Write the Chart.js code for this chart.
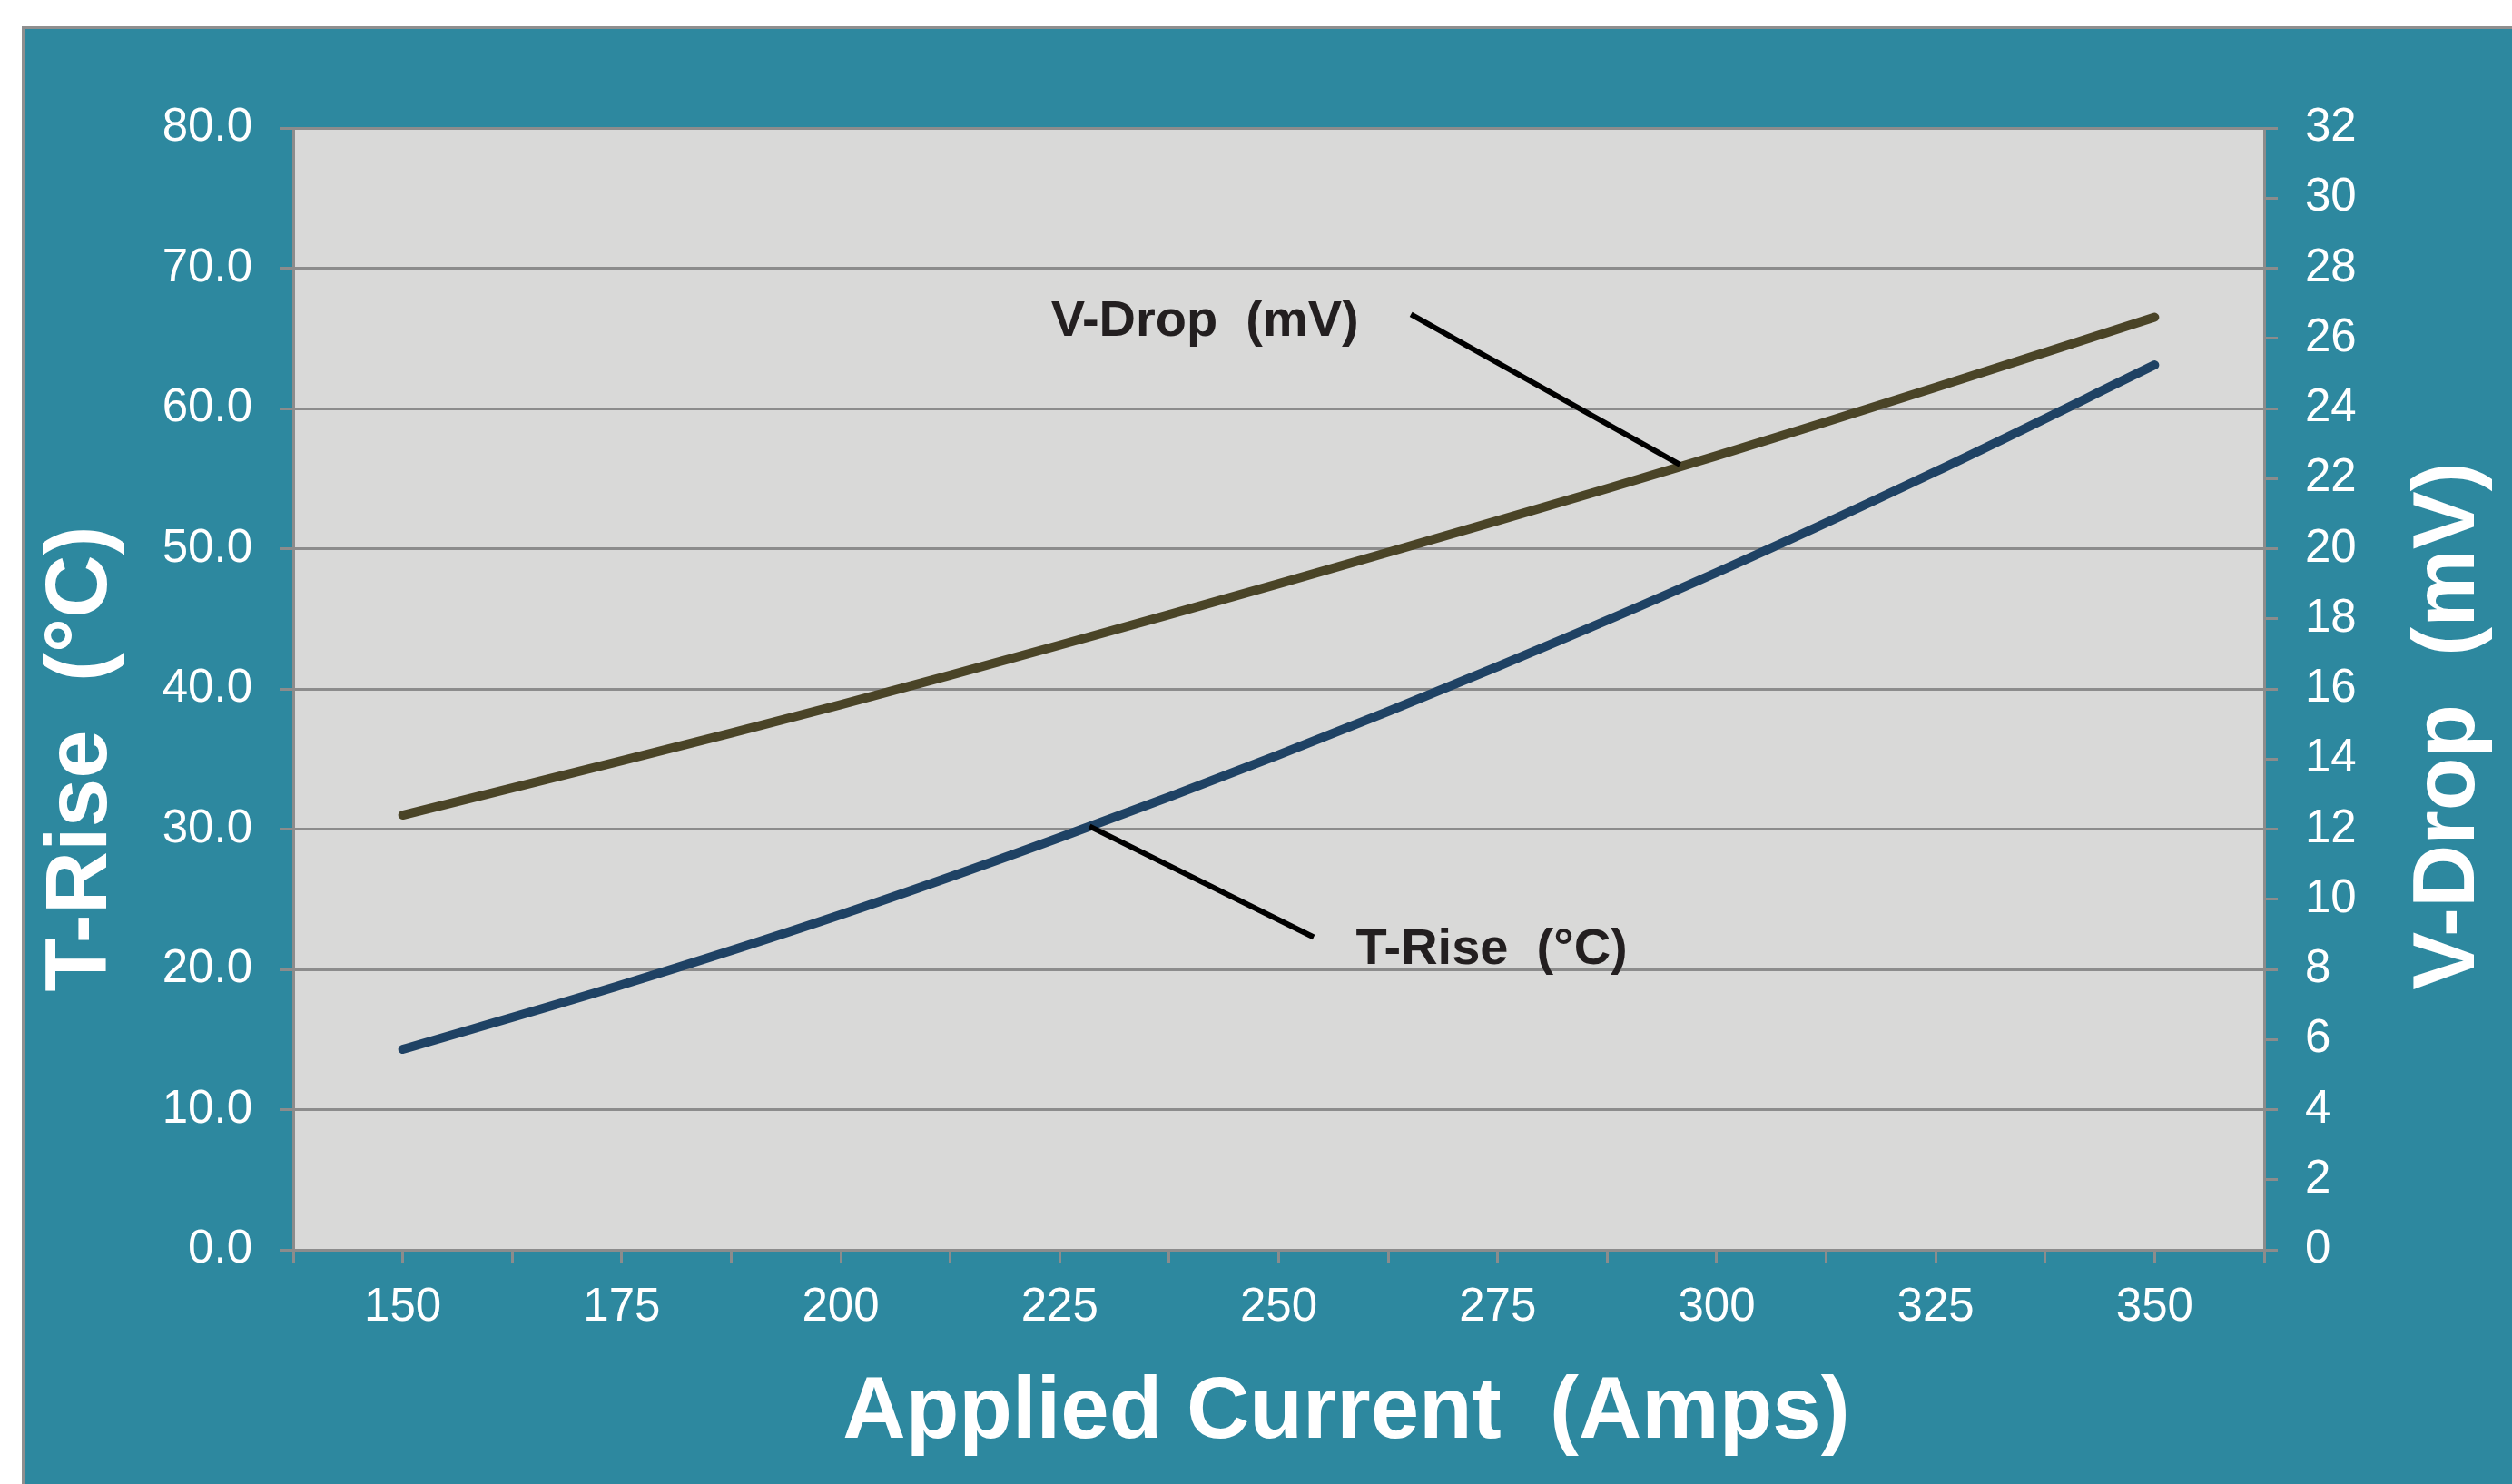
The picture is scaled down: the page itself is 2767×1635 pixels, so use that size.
<!DOCTYPE html>
<html>
<head>
<meta charset="utf-8">
<title>T-Rise / V-Drop vs Applied Current</title>
<script src="https://cdn.jsdelivr.net/npm/chart.js@4.4.1/dist/chart.umd.min.js"></script>
<style>
    html, body { margin: 0; padding: 0; background: #ffffff; overflow: hidden; }
    canvas { display: block; }
</style>
</head>
<body>
<canvas id="chart" width="2767" height="1635"></canvas>
<script>
// Data
const currentAmps = [150, 175, 200, 225, 250, 275, 300, 325, 350];
const tRise = [14.3, 18.9, 23.9, 29.4, 35.3, 41.6, 48.3, 55.5, 63.1];    // °C, left axis
const vDrop = [12.4, 13.95, 15.55, 17.25, 19.0, 20.8, 22.65, 24.6, 26.6]; // mV, right axis

const leftTicks = { min: 0, max: 80, step: 10 };
const rightTicks = { min: 0, max: 32, step: 2 };
const xRange = { min: 137.5, max: 362.5, step: 12.5, labelEvery: 25 };

// callouts, in data units (x = amps, y = left axis °C)
const callouts = [
    { text: 'V-Drop  (mV)', textAt: [224, 65.2], from: [265.1, 66.7], to: [295.8, 56.0] },
    { text: 'T-Rise  (°C)', textAt: [258.8, 20.4], from: [228.4, 30.2], to: [254, 22.3] }
];

const TEAL = '#2D889F';
const PLOT_BG = '#D9D9D8';
const GRID = '#8C8C8C';
const FONT = '"Liberation Sans", Arial, Helvetica, sans-serif';

const backdrop = {
    id: 'backdrop',
    beforeDraw(chart) {
        const { ctx, width, height, chartArea: a } = chart;
        ctx.save();
        ctx.fillStyle = '#ffffff';
        ctx.fillRect(0, 0, width, height);
        ctx.fillStyle = TEAL;
        ctx.fillRect(25, 30, width - 25, height - 30);
        ctx.strokeStyle = '#8F8F8F';
        ctx.lineWidth = 3;
        ctx.beginPath();
        ctx.moveTo(25.5, height);
        ctx.lineTo(25.5, 30.5);
        ctx.lineTo(width, 30.5);
        ctx.stroke();
        ctx.fillStyle = PLOT_BG;
        ctx.fillRect(a.left, a.top, a.right - a.left, a.bottom - a.top);
        ctx.restore();
    }
};

const notes = {
    id: 'notes',
    afterDatasetsDraw(chart) {
        const { ctx, scales } = chart;
        const px = p => [scales.x.getPixelForValue(p[0]), scales.y.getPixelForValue(p[1])];
        ctx.save();
        callouts.forEach(c => {
            const f = px(c.from), t = px(c.to), tx = px(c.textAt);
            ctx.strokeStyle = '#000000';
            ctx.lineWidth = 6;
            ctx.beginPath();
            ctx.moveTo(f[0], f[1]);
            ctx.lineTo(t[0], t[1]);
            ctx.stroke();
            ctx.fillStyle = '#231F20';
            ctx.font = 'bold 56px ' + FONT;
            ctx.textAlign = 'left';
            ctx.textBaseline = 'alphabetic';
            ctx.fillText(c.text, tx[0], tx[1]);
        });
        ctx.restore();
    },
    afterDraw(chart) {
        const { ctx } = chart;
        ctx.save();
        ctx.fillStyle = '#ffffff';
        ctx.font = 'bold 96px ' + FONT;
        ctx.textAlign = 'center';
        ctx.textBaseline = 'alphabetic';
        ctx.fillText('Applied Current  (Amps)', 1483, 1584);

        ctx.translate(117, 836);
        ctx.rotate(-Math.PI / 2);
        ctx.fillText('T-Rise  (°C)', 0, 0);
        ctx.restore();

        ctx.save();
        ctx.fillStyle = '#ffffff';
        ctx.font = 'bold 96px ' + FONT;
        ctx.textAlign = 'center';
        ctx.translate(2725, 800);
        ctx.rotate(-Math.PI / 2);
        ctx.fillText('V-Drop  (mV)', 0, 0);
        ctx.restore();
    }
};

const tickFont = { family: FONT, size: 51 };

new Chart(document.getElementById('chart'), {
    type: 'line',
    data: {
        datasets: [
            {
                label: 'V-Drop (mV)',
                data: currentAmps.map((a, i) => ({ x: a, y: vDrop[i] })),
                yAxisID: 'y2',
                borderColor: '#4A4427',
                borderWidth: 10,
                borderCapStyle: 'round',
                pointRadius: 0,
                tension: 0.3
            },
            {
                label: 'T-Rise (°C)',
                data: currentAmps.map((a, i) => ({ x: a, y: tRise[i] })),
                yAxisID: 'y',
                borderColor: '#1F4264',
                borderWidth: 10,
                borderCapStyle: 'round',
                pointRadius: 0,
                tension: 0.3
            }
        ]
    },
    options: {
        responsive: false,
        devicePixelRatio: 1,
        animation: false,
        layout: { padding: { top: 141, left: 0, right: 0, bottom: 0 } },
        plugins: { legend: { display: false }, tooltip: { enabled: false } },
        scales: {
            x: {
                type: 'linear',
                min: xRange.min,
                max: xRange.max,
                afterFit: s => { s.height = 1635 - 1377; },
                ticks: {
                    stepSize: xRange.step,
                    autoSkip: false,
                    maxRotation: 0,
                    color: '#ffffff',
                    font: tickFont,
                    padding: 18,
                    callback: v => (v % xRange.labelEvery === 0 ? String(v) : '')
                },
                grid: { drawOnChartArea: false, color: GRID, lineWidth: 3, tickLength: 15 },
                border: { color: GRID, width: 3 }
            },
            y: {
                position: 'left',
                min: leftTicks.min,
                max: leftTicks.max,
                afterFit: s => { s.width = 323; },
                ticks: {
                    stepSize: leftTicks.step,
                    color: '#ffffff',
                    font: tickFont,
                    padding: 30,
                    callback: v => v.toFixed(1)
                },
                grid: { color: GRID, lineWidth: 3, tickLength: 15 },
                border: { color: GRID, width: 3 }
            },
            y2: {
                position: 'right',
                min: rightTicks.min,
                max: rightTicks.max,
                afterFit: s => { s.width = 2767 - 2494; },
                ticks: {
                    stepSize: rightTicks.step,
                    color: '#ffffff',
                    font: tickFont,
                    padding: 30
                },
                grid: { drawOnChartArea: false, color: GRID, lineWidth: 3, tickLength: 15 },
                border: { color: GRID, width: 3 }
            }
        }
    },
    plugins: [backdrop, notes]
});
</script>
</body>
</html>
